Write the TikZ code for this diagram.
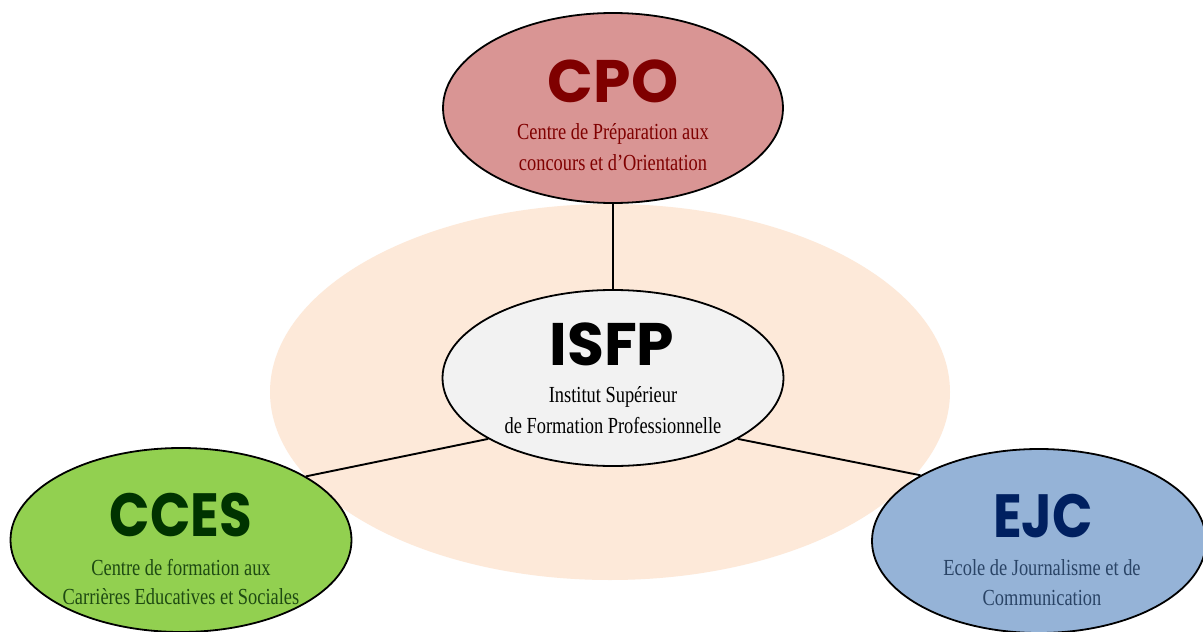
\documentclass[tikz,border=0pt]{standalone}
\usepackage{fontspec}
\usetikzlibrary{shapes.geometric}
\newfontfamily\titlefont{Poppins}
\newfontfamily\titlenarrow[FakeStretch=0.87]{Poppins}
\newfontfamily\subfont[FakeStretch=0.8]{Liberation Serif}
\definecolor{bgpeach}{HTML}{FDE9D9}
\definecolor{cpofill}{HTML}{D99594}
\definecolor{cpotext}{HTML}{7F0000}
\definecolor{isfpfill}{HTML}{F2F2F2}
\definecolor{ccesfill}{HTML}{92D050}
\definecolor{ccestext}{HTML}{003300}
\definecolor{ccessub}{HTML}{1E4A12}
\definecolor{ejcfill}{HTML}{95B3D7}
\definecolor{ejctext}{HTML}{002060}
\definecolor{ejcsub}{HTML}{2A4466}
\tikzset{
  unit/.style={ellipse, draw=black, line width=1.8pt, inner sep=0pt},
  ttl/.style={anchor=base, inner sep=0pt, text depth=0pt, font=\titlefont\bfseries\fontsize{60}{60}\selectfont},
  ttlnarrow/.style={anchor=base, inner sep=0pt, text depth=0pt, font=\titlenarrow\bfseries\fontsize{61}{61}\selectfont},
  sub/.style={anchor=base, inner sep=0pt, font=\subfont\fontsize{23}{23}\selectfont},
  link/.style={line width=1.9pt, draw=black}
}
\begin{document}
\begin{tikzpicture}[x=1pt,y=-1pt]
\useasboundingbox (0,0) rectangle (1203,632);
\fill[white] (0,0) rectangle (1203,632);
\fill[bgpeach] (610,392) ellipse [x radius=340, y radius=188];
\node[unit, fill=cpofill, minimum width=340pt, minimum height=190pt] (cpo) at (613,108) {};
\node[unit, fill=isfpfill, minimum width=341pt, minimum height=176pt] (isfp) at (613,378) {};
\node[unit, fill=ccesfill, minimum width=341pt, minimum height=184pt] (cces) at (181,540) {};
\node[unit, fill=ejcfill, minimum width=334pt, minimum height=184pt] (ejc) at (1039,541) {};
\draw[link] (cpo.south) -- (isfp.north);
\draw[link] (isfp.206) -- (cces.27);
\draw[link] (isfp.334) -- (ejc.151);
% texts
\node[ttl, text=cpotext] (cpot) at (613,102) {CPO};
\node[sub, text=cpotext] (cpos1) at (613,139) {Centre de Préparation aux};
\node[sub, text=cpotext] (cpos2) at (613,170) {concours et d’Orientation};
\node[ttl, text=black] (isfpt) at (612,365) {ISFP};
\node[sub, text=black] (isfps1) at (613,402) {Institut Supérieur};
\node[sub, text=black] (isfps2) at (613,433) {de Formation Professionnelle};
\node[ttlnarrow, text=ccestext] (ccest) at (181,536) {CCES};
\node[sub, text=ccessub] (ccess1) at (181,575) {Centre de formation aux};
\node[sub, text=ccessub] (ccess2) at (181,604) {Carrières Educatives et Sociales};
\node[ttlnarrow, text=ejctext] (ejct) at (1043,537) {EJC};
\node[sub, text=ejcsub] (ejcs1) at (1042,575) {Ecole de Journalisme et de};
\node[sub, text=ejcsub] (ejcs2) at (1042,605) {Communication};
\end{tikzpicture}
\end{document}
